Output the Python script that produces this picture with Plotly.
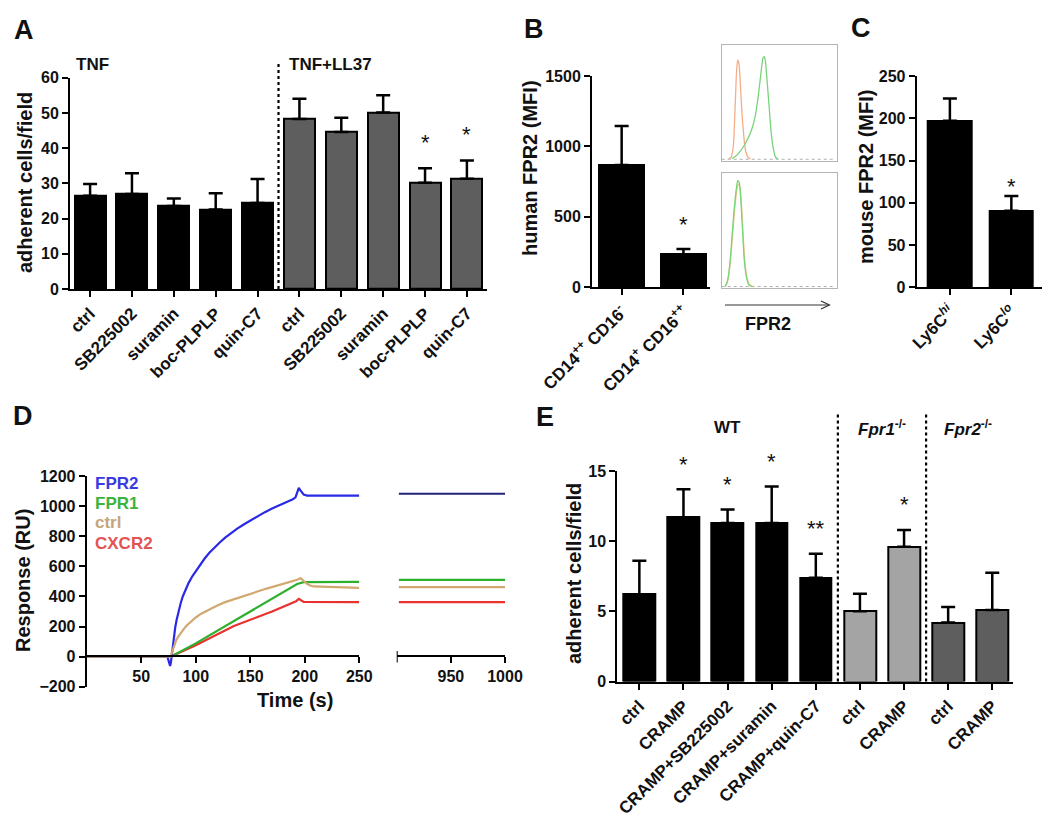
import plotly.graph_objects as go

W, H = 1050, 819
FONT = "Liberation Sans"

# ---------------- data ----------------
A_labels = ["ctrl", "SB225002", "suramin", "boc-PLPLP", "quin-C7"]
A_tnf = [26.5, 27.0, 23.6, 22.6, 24.4]
A_tnf_err = [3.3, 5.9, 2.1, 4.6, 6.8]
A_ll37 = [48.3, 44.6, 50.1, 30.2, 31.3]
A_ll37_err = [5.7, 4.0, 4.9, 4.1, 5.2]
A_ll37_sig = ["", "", "", "*", "*"]

B_labels = ["CD14<sup>++</sup> CD16<sup>-</sup>", "CD14<sup>+</sup> CD16<sup>++</sup>"]
B_vals = [868, 234]
B_err = [277, 38]
B_sig = ["", "*"]

# flow histograms (channel, % of max)
H1_orange_x = [6, 8, 10, 11, 12, 13, 14, 15, 16, 17, 18, 19, 20, 21, 23, 25]
H1_orange_y = [2, 3, 12, 30, 55, 78, 87, 84, 70, 52, 36, 24, 14, 8, 3, 2]
H1_green_x = [9, 12, 15, 18, 21, 24, 27, 29, 31, 33, 35, 36, 37, 38, 39, 41, 43, 45, 47, 49]
H1_green_y = [2, 4, 7, 11, 16, 22, 30, 38, 50, 66, 83, 89, 90, 86, 75, 50, 25, 10, 3, 2]
H2_orange_x = [3, 5, 7, 9, 11, 13, 14, 15, 16, 17, 18, 19, 20, 22, 24, 27]
H2_orange_y = [1, 5, 18, 40, 65, 84, 89, 90, 86, 75, 58, 40, 24, 9, 3, 1]
H2_green_x = [3, 5, 7, 9, 11, 13, 14, 15, 16, 17, 18, 19, 20, 22, 24, 27]
H2_green_y = [1, 6, 20, 45, 70, 88, 93, 92, 85, 70, 52, 34, 20, 7, 2, 1]

C_labels = ["Ly6C<sup><i>hi</i></sup>", "Ly6C<sup><i>lo</i></sup>"]
C_vals = [197, 90.6]
C_err = [26.5, 17.5]
C_sig = ["", "*"]

# SPR sensorgrams
D_fpr2_t = [0, 74, 75, 75.8, 76.5, 77.2, 78, 79, 80, 81.2, 82.5, 84, 86, 88, 90.5, 93.5,
            97, 100, 104, 108, 112.5, 117, 122, 127, 132.5, 138, 144, 150, 156.5, 163,
            169.5, 176, 181, 186, 189, 191.5, 193, 194.5, 196, 197.6, 199, 202, 250]
D_fpr2_r = [0, 0, -25, -50, -62, -40, 10, 80, 140, 195, 245, 295, 350, 398, 445, 490,
            535, 568, 610, 650, 690, 725, 758, 790, 822, 850, 878, 904, 931, 958,
            982, 1005, 1020, 1035, 1045, 1058, 1090, 1121, 1105, 1086, 1076, 1070, 1070]
D_fpr1_t = [0, 77, 100, 135, 170, 193, 199, 250]
D_fpr1_r = [0, 0, 88, 236, 385, 482, 495, 497]
D_ctrl_t = [0, 77, 78, 79, 80, 81, 82.2, 83.5, 85, 87, 89.3, 91.5, 94, 97, 100, 105, 110,
            115, 119.8, 127, 135, 142.5, 150.3, 157.5, 165, 173, 180.8, 187, 193, 196,
            199, 202, 205, 208, 250]
D_ctrl_r = [0, 0, 25, 48, 70, 90, 110, 128, 145, 165, 186, 205, 222, 242, 260, 285, 305,
            323, 340, 362, 382, 400, 418, 436, 452, 468, 484, 497, 510, 522,
            500, 484, 472, 466, 457]
D_cxcr2_t = [0, 77, 100, 135, 170, 192, 194.5, 199, 250]
D_cxcr2_r = [0, 0, 75, 203, 300, 368, 384, 363, 362]
D_late_t = [902, 1000]
D_fpr2_late = [1082, 1082]
D_fpr1_late = [510, 510]
D_ctrl_late = [462, 462]
D_cxcr2_late = [362, 362]

E_labels = ["ctrl", "CRAMP", "CRAMP+SB225002", "CRAMP+suramin", "CRAMP+quin-C7",
            "ctrl", "CRAMP", "ctrl", "CRAMP"]
E_vals = [6.2, 11.7, 11.3, 11.3, 7.4, 5.0, 9.6, 4.2, 5.1]
E_err = [2.4, 2.0, 0.95, 2.6, 1.7, 1.25, 1.2, 1.1, 2.65]
E_sig = ["", "*", "*", "*", "**", "", "*", "", ""]
E_group = ["WT"] * 5 + ["Fpr1"] * 2 + ["Fpr2"] * 2

# ---------------- helpers (layout only) ----------------
OFF = 8  # page body margin compensation


def px(x):
    return (x - OFF) / W


def py(y):
    return 1 - (y - OFF) / H


BLACK = "#000000"
GRAY_DARK = "#5e5e5e"
GRAY_LIGHT = "#a4a4a4"

tickfont = dict(family=FONT, size=16, color="#111", weight="bold")
xtickfont = dict(family=FONT, size=17, color="#111", weight="bold")


def bar_axis_common():
    return dict(showline=True, linecolor=BLACK, linewidth=2, ticks="outside",
                ticklen=6, tickwidth=2, tickcolor=BLACK, showgrid=False,
                zeroline=False, tickfont=tickfont, automargin=False)


fig = go.Figure()


def errbar(err):
    return dict(type="data", symmetric=False, array=err, arrayminus=[0] * len(err),
                color=BLACK, thickness=2.5, width=7)


# ---------------- Panel A ----------------
nA = len(A_labels)
fig.add_trace(go.Bar(x=list(range(nA)), y=A_tnf, error_y=errbar(A_tnf_err),
                     marker=dict(color=BLACK, line=dict(color=BLACK, width=2)),
                     width=0.74, xaxis="x", yaxis="y", showlegend=False))
fig.add_trace(go.Bar(x=[nA + i for i in range(nA)], y=A_ll37, error_y=errbar(A_ll37_err),
                     marker=dict(color=GRAY_DARK, line=dict(color=BLACK, width=2)),
                     width=0.74, xaxis="x", yaxis="y", showlegend=False))

# ---------------- Panel B ----------------
fig.add_trace(go.Bar(x=list(range(len(B_vals))), y=B_vals, error_y=errbar(B_err),
                     marker=dict(color=BLACK, line=dict(color=BLACK, width=2)),
                     width=0.72, xaxis="x2", yaxis="y2", showlegend=False))

hist_line = dict(width=1.3)
fig.add_trace(go.Scatter(x=[0, 97], y=[1.5, 1.5], mode="lines", xaxis="x3", yaxis="y3",
                         line=dict(color="#b0b0b0", width=1, dash="dot"), showlegend=False))
fig.add_trace(go.Scatter(x=H1_orange_x, y=H1_orange_y, mode="lines", xaxis="x3", yaxis="y3",
                         line=dict(color="#f5ad88", shape="spline", **hist_line), showlegend=False))
fig.add_trace(go.Scatter(x=H1_green_x, y=H1_green_y, mode="lines", xaxis="x3", yaxis="y3",
                         line=dict(color="#78d478", shape="spline", **hist_line), showlegend=False))
fig.add_trace(go.Scatter(x=[0, 97], y=[1.0, 1.0], mode="lines", xaxis="x4", yaxis="y4",
                         line=dict(color="#b0b0b0", width=1, dash="dot"), showlegend=False))
fig.add_trace(go.Scatter(x=H2_orange_x, y=H2_orange_y, mode="lines", xaxis="x4", yaxis="y4",
                         line=dict(color="#f2c488", shape="spline", **hist_line), showlegend=False))
fig.add_trace(go.Scatter(x=H2_green_x, y=H2_green_y, mode="lines", xaxis="x4", yaxis="y4",
                         line=dict(color="#78d478", shape="spline", **hist_line), showlegend=False))

# ---------------- Panel C ----------------
fig.add_trace(go.Bar(x=list(range(len(C_vals))), y=C_vals, error_y=errbar(C_err),
                     marker=dict(color=BLACK, line=dict(color=BLACK, width=2)),
                     width=0.71, xaxis="x5", yaxis="y5", showlegend=False))

# ---------------- Panel D ----------------
D_series = [
    ("CXCR2", D_cxcr2_t, D_cxcr2_r, D_cxcr2_late, "#e8322e"),
    ("FPR1", D_fpr1_t, D_fpr1_r, D_fpr1_late, "#2db02d"),
    ("FPR2", D_fpr2_t, D_fpr2_r, D_fpr2_late, "#2a2ae6"),
    ("ctrl", D_ctrl_t, D_ctrl_r, D_ctrl_late, "#d0a870"),
]
for name, t, r, late, col in D_series:
    fig.add_trace(go.Scatter(x=t, y=r, mode="lines", xaxis="x6", yaxis="y6", name=name,
                             line=dict(color=col, width=2.2), showlegend=False))
    fig.add_trace(go.Scatter(x=D_late_t, y=late, mode="lines", xaxis="x7", yaxis="y6", name=name,
                             line=dict(color=col if name != "FPR2" else "#22227a", width=2.2),
                             showlegend=False))

# ---------------- Panel E ----------------
E_colors = [BLACK if g == "WT" else (GRAY_LIGHT if g == "Fpr1" else GRAY_DARK) for g in E_group]
fig.add_trace(go.Bar(x=list(range(len(E_vals))), y=E_vals, error_y=errbar(E_err),
                     marker=dict(color=E_colors, line=dict(color=BLACK, width=2)),
                     width=0.72, xaxis="x8", yaxis="y8", showlegend=False))

# ---------------- axes ----------------
layout = dict(
    width=W, height=H, margin=dict(l=0, r=0, t=0, b=0, autoexpand=False),
    paper_bgcolor="white", plot_bgcolor="rgba(0,0,0,0)",
    font=dict(family=FONT, color="#111"), bargap=0,
)

# A
layout["xaxis"] = dict(domain=[px(70), px(487)], range=[-0.48, 9.48], anchor="y",
                       tickvals=list(range(2 * nA)), ticktext=A_labels + A_labels,
                       tickangle=-45, **{**bar_axis_common(), "tickfont": xtickfont})
layout["yaxis"] = dict(domain=[py(289), py(77.7)], range=[0, 60], dtick=10, anchor="x",
                       **bar_axis_common())
# B
layout["xaxis2"] = dict(domain=[px(592), px(710)], range=[-0.48, 1.43], anchor="y2",
                        tickvals=[0, 1], ticktext=B_labels, tickangle=-45,
                        **{**bar_axis_common(), "tickfont": xtickfont})
layout["yaxis2"] = dict(domain=[py(287.3), py(76)], range=[0, 1500], dtick=500, anchor="x2",
                        **bar_axis_common())
hist_ax = dict(showline=True, mirror=True, linecolor="#b4b4b4", linewidth=1,
               showticklabels=False, ticks="", showgrid=False, zeroline=False,
               automargin=False)
layout["xaxis3"] = dict(domain=[px(721.7), px(836.7)], range=[0, 100], anchor="y3", **hist_ax)
layout["yaxis3"] = dict(domain=[py(161), py(45)], range=[0, 100], anchor="x3", **hist_ax)
layout["xaxis4"] = dict(domain=[px(721.7), px(836.7)], range=[0, 100], anchor="y4", **hist_ax)
layout["yaxis4"] = dict(domain=[py(287.7), py(172.7)], range=[0, 100], anchor="x4", **hist_ax)
# C
layout["xaxis5"] = dict(domain=[px(916.7), px(1042.7)], range=[-0.54, 1.51], anchor="y5",
                        tickvals=[0, 1], ticktext=C_labels, tickangle=-45,
                        **{**bar_axis_common(), "tickfont": xtickfont})
layout["yaxis5"] = dict(domain=[py(287.3), py(76)], range=[0, 250], dtick=50, anchor="x5",
                        **bar_axis_common())
# D
layout["xaxis6"] = dict(domain=[px(86.7), px(359.3)], range=[0, 250], anchor="free",
                        position=py(656.2), tickvals=[50, 100, 150, 200, 250],
                        **bar_axis_common())
layout["xaxis7"] = dict(domain=[px(396.7), px(505)], range=[900, 1000], anchor="free",
                        position=py(656.2), tickvals=[950, 1000],
                        **bar_axis_common())
layout["yaxis6"] = dict(domain=[py(686.7), py(476)], range=[-200, 1200], dtick=200,
                        anchor="x6", **bar_axis_common())
# E
layout["xaxis8"] = dict(domain=[px(617.3), px(1013)], range=[-0.5, 8.47], anchor="y8",
                        tickvals=list(range(len(E_labels))), ticktext=E_labels, tickangle=-45,
                        **{**bar_axis_common(), "tickfont": xtickfont})
layout["yaxis8"] = dict(domain=[py(681.5), py(471)], range=[0, 15], dtick=5, anchor="x8",
                        **bar_axis_common())

fig.update_layout(**layout)

# ---------------- shapes ----------------
dash = dict(color=BLACK, width=2.2, dash="3px,3px")
fig.add_shape(type="line", xref="x", yref="paper", x0=nA - 0.5, x1=nA - 0.5,
              y0=py(289), y1=py(62), line=dash)
for xv in [4.5, 6.5]:
    fig.add_shape(type="line", xref="x8", yref="paper", x0=xv, x1=xv,
                  y0=py(681.5), y1=py(413), line=dash)
# start tick of the late segment in D
fig.add_shape(type="line", xref="x7", yref="paper", x0=900, x1=900,
              y0=py(662.5), y1=py(651), line=dict(color=BLACK, width=2))

# flow axis arrow
fig.add_shape(type="line", xref="paper", yref="paper", x0=px(725), x1=px(829),
              y0=py(305), y1=py(305), line=dict(color="#333", width=1.2))
fig.add_shape(type="path", xref="paper", yref="paper",
              path=f"M {px(821)} {py(301)} L {px(829.5)} {py(305)} L {px(821)} {py(309)}",
              line=dict(color="#333", width=1.2))

# ---------------- annotations ----------------
def txt(x, y, s, size=17, color="#111", angle=0, xanchor="center", bold=True):
    fig.add_annotation(x=px(x), y=py(y), xref="paper", yref="paper", text=s,
                       showarrow=False, textangle=angle, xanchor=xanchor, yanchor="middle",
                       font=dict(family=FONT, size=size, color=color,
                                 weight="bold" if bold else "normal"))


# panel letters
for L, x, y in [("A", 23.5, 30), ("B", 534, 29), ("C", 861, 28), ("D", 22.5, 416), ("E", 545, 417)]:
    txt(x, y, L, size=27)

# axis titles
txt(25, 183, "adherent cells/field", size=20, angle=-90)
txt(530, 168, "human FPR2 (MFI)", size=20, angle=-90)
txt(866, 177, "mouse FPR2 (MFI)", size=20, angle=-90)
txt(23, 581, "Response (RU)", size=20, angle=-90)
txt(295, 700, "Time (s)", size=20)
txt(574, 574, "adherent cells/field", size=20, angle=-90)

# group labels
txt(92, 65, "TNF", size=17)
txt(330, 65, "TNF+LL37", size=17)
txt(727, 428, "WT", size=17)
txt(882, 428, "<i>Fpr1</i><sup>-/-</sup>", size=17)
txt(968, 428, "<i>Fpr2</i><sup>-/-</sup>", size=17)

# flow axis label
txt(768, 324, "FPR2", size=18)

# D legend text
for s, y, c in [("FPR2", 483, "#3a3ae0"), ("FPR1", 504, "#3cb43c"),
                ("ctrl", 522, "#c8a47a"), ("CXCR2", 543, "#e25454")]:
    txt(93, y, s, size=17, color=c, xanchor="left")


# significance stars
def stars(xref, yref, vals, errs, sig, shift, xoff=0):
    for i, (v, e, s) in enumerate(zip(vals, errs, sig)):
        if s:
            fig.add_annotation(x=i + xoff, y=v + e, xref=xref, yref=yref, text=s,
                               showarrow=False, yanchor="middle", yshift=shift,
                               font=dict(family=FONT, size=22, color="#111"))


stars("x", "y", A_ll37, A_ll37_err, A_ll37_sig, 26, xoff=nA)
stars("x2", "y2", B_vals, B_err, B_sig, 24)
stars("x5", "y5", C_vals, C_err, C_sig, 9)
stars("x8", "y8", E_vals, E_err, E_sig, 25)

fig.write_html("out.html")
